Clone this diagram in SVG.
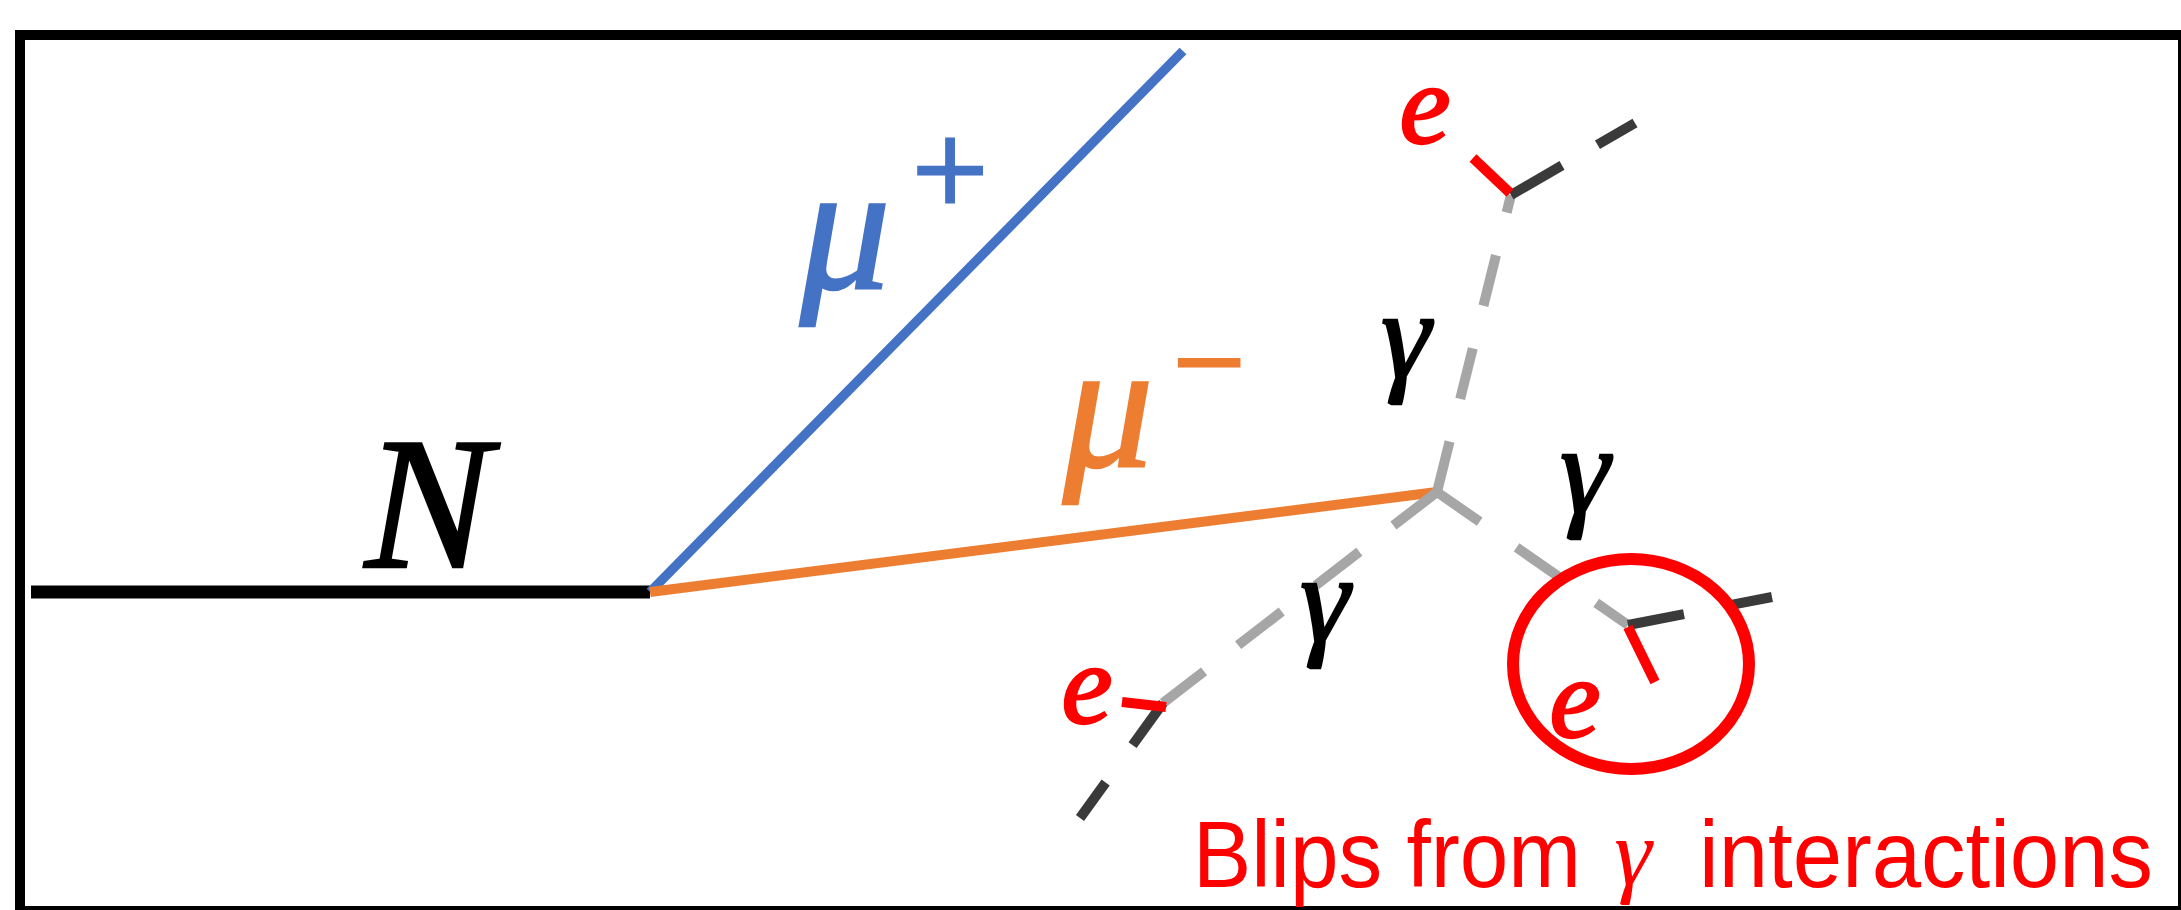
<svg xmlns="http://www.w3.org/2000/svg" width="2181" height="910" viewBox="0 0 2181 910">
  <style>
    .math { font-family: "Liberation Serif", "DejaVu Serif", serif; font-style: italic; stroke-width: 2.5; }
    .op { font-family: "Liberation Serif", "DejaVu Serif", serif; font-style: normal; stroke-width: 3; }
    .sans { font-family: "Liberation Sans", Arial, sans-serif; }
    .photon { stroke: #A6A6A6; stroke-width: 10; fill: none; stroke-linecap: butt; }
    .dark { stroke: #3A3A3A; stroke-width: 10; fill: none; stroke-linecap: butt; }
    .elec { stroke: #FF0000; stroke-width: 10; fill: none; stroke-linecap: butt; }
  </style>
  <rect x="0" y="0" width="2181" height="910" fill="#FFFFFF"/>
  <g id="frame">
    <rect x="20" y="35" width="2163" height="876" fill="none" stroke="#000000" stroke-width="10"/>
  </g>
  <g id="connectors">
    <line id="track-N" x1="31" y1="592" x2="650" y2="592" stroke="#000000" stroke-width="13"/>
    <line id="track-mu-plus" x1="650" y1="592" x2="1183" y2="51" stroke="#4472C4" stroke-width="9.5"/>
    <line id="track-mu-minus" x1="650" y1="592" x2="1437" y2="492" stroke="#ED7D31" stroke-width="10"/>
    <path id="photon-up" class="photon" d="M1437,492 L1511,195" stroke-dasharray="52 44"/>
    <path id="photon-right" class="photon" d="M1437,492 L1628,625" stroke-dasharray="52 45"/>
    <path id="photon-left" class="photon" d="M1437,492 L1163,703" stroke-dasharray="55 43"/>
    <path id="dark-top" class="dark" d="M1511,195 L1635,123" stroke-dasharray="59 41"/>
    <path id="dark-left" class="dark" d="M1163,703 L1080,818" stroke-dasharray="52 46"/>
    <path id="dark-right" class="dark" d="M1628,625 L1772,597" stroke-dasharray="57 43"/>
    <line id="elec-top" class="elec" x1="1473" y1="158" x2="1510" y2="193"/>
    <line id="elec-left" class="elec" x1="1122" y1="702" x2="1166" y2="707"/>
    <line id="elec-right" class="elec" x1="1628" y1="627" x2="1655" y2="682"/>
  </g>
  <g id="blip-circle">
    <ellipse cx="1631" cy="664" rx="118" ry="105" fill="none" stroke="#FF0000" stroke-width="12"/>
  </g>
  <g id="label-N">
    <text class="math" x="365" y="567" font-size="189" fill="#000000" stroke="#000000">N</text>
  </g>
  <g id="label-mu-plus" fill="#4472C4" stroke="#4472C4">
    <text class="math" x="800" y="288" font-size="180">μ</text>
    <text class="op" x="950" y="216" font-size="135" text-anchor="middle">+</text>
  </g>
  <g id="label-mu-minus" fill="#ED7D31" stroke="#ED7D31">
    <text class="math" x="1063" y="466" font-size="180">μ</text>
    <text class="op" x="1209" y="405" font-size="128" text-anchor="middle">−</text>
  </g>
  <g id="label-gamma" fill="#000000" stroke="#000000">
    <text class="math" x="1406" y="377" font-size="125" text-anchor="middle">γ</text>
    <text class="math" x="1585" y="512" font-size="125" text-anchor="middle">γ</text>
    <text class="math" x="1325" y="641" font-size="125" text-anchor="middle">γ</text>
  </g>
  <g id="label-e" fill="#FF0000" stroke="#FF0000">
    <text class="math" x="1425" y="143" font-size="115" text-anchor="middle">e</text>
    <text class="math" x="1087" y="723" font-size="115" text-anchor="middle">e</text>
    <text class="math" x="1575" y="737" font-size="115" text-anchor="middle">e</text>
  </g>
  <g id="caption" fill="#FF0000">
    <text class="sans" x="1193" y="887" font-size="94" textLength="388" lengthAdjust="spacingAndGlyphs">Blips from</text>
    <text class="math" x="1633" y="885" font-size="95" text-anchor="middle" stroke="none">γ</text>
    <text class="sans" x="1699" y="887" font-size="94" textLength="454" lengthAdjust="spacingAndGlyphs">interactions</text>
  </g>
</svg>
